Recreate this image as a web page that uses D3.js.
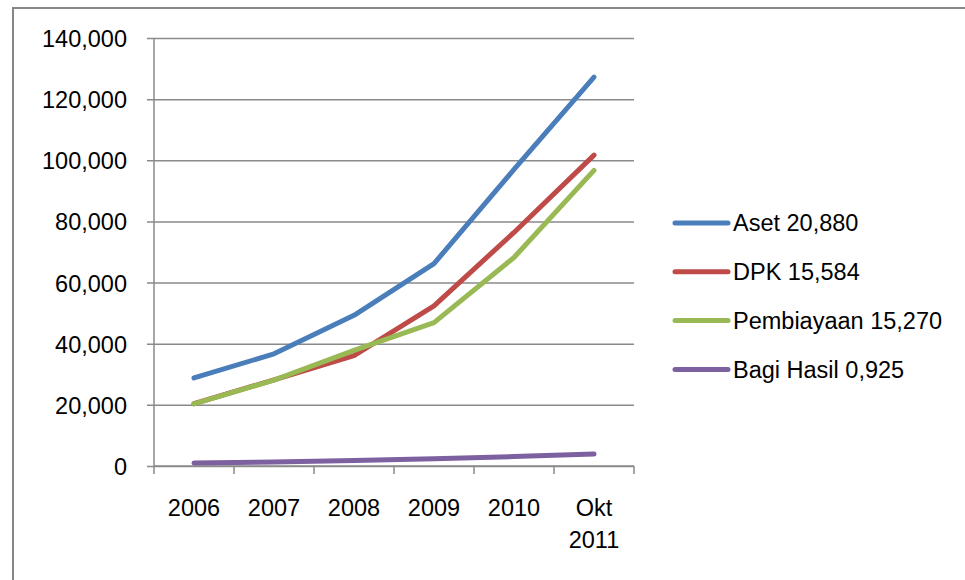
<!DOCTYPE html>
<html>
<head>
<meta charset="utf-8">
<script src="https://cdn.jsdelivr.net/npm/d3@7"></script>
<style>
  body { margin: 0; background: #fff; }
  svg { display: block; font-family: "Liberation Sans", Arial, sans-serif; }
</style>
</head>
<body>
<div id="chart"></div>
<script>
// data
const categories = ['2006', '2007', '2008', '2009', '2010', 'Okt 2011'];
const aset = [28800, 36700, 49300, 66200, 97000, 127200];
const dpk = [20400, 28200, 36100, 52400, 76400, 101700];
const pembiayaan = [20300, 28100, 37800, 46900, 68200, 96700];
const bagiHasil = [1000, 1300, 1800, 2400, 3100, 3900];
const seriesNames = ['Aset 20,880', 'DPK 15,584', 'Pembiayaan 15,270', 'Bagi Hasil 0,925'];
const yTicks = [0, 20000, 40000, 60000, 80000, 100000, 120000, 140000];

const colors = ['#4a7ebb', '#be4b48', '#98b954', '#7d60a0'];
const series = [aset, dpk, pembiayaan, bagiHasil].map((values, i) => ({
  name: seriesNames[i],
  color: colors[i],
  values: values
}));

const width = 965;
const height = 580;
const plot = { left: 154, right: 634, top: 38, bottom: 466 };

const svg = d3.select('#chart')
  .append('svg')
  .attr('width', width)
  .attr('height', height);

// outer chart border (runs off the right and bottom edges)
svg.append('rect')
  .attr('x', 13)
  .attr('y', 8)
  .attr('width', 1000)
  .attr('height', 620)
  .attr('fill', 'none')
  .attr('stroke', '#878787')
  .attr('stroke-width', 2);

const x = d3.scaleBand()
  .domain(categories)
  .range([plot.left, plot.right]);

const y = d3.scaleLinear()
  .domain([0, 140000])
  .range([plot.bottom, plot.top]);

const fmt = d3.format(',');

// y axis with gridlines
const yAxis = svg.append('g')
  .attr('transform', `translate(${plot.left},0)`)
  .call(d3.axisLeft(y)
    .tickValues(yTicks)
    .tickSize(-(plot.right - plot.left))
    .tickPadding(27)
    .tickFormat(fmt));

yAxis.select('.domain').remove();
yAxis.selectAll('.tick line')
  .attr('x1', -7)
  .attr('stroke', '#8a8a8a')
  .attr('stroke-width', 1.5);
yAxis.selectAll('.tick text')
  .attr('font-size', 23.5)
  .attr('font-family', '"Liberation Sans", Arial, sans-serif')
  .attr('fill', '#000')
  .attr('dy', '0.36em');

// vertical axis line
svg.append('line')
  .attr('x1', plot.left).attr('x2', plot.left)
  .attr('y1', plot.top).attr('y2', plot.bottom)
  .attr('stroke', '#8a8a8a')
  .attr('stroke-width', 1.5);

// x axis
const xAxis = svg.append('g')
  .attr('transform', `translate(0,${plot.bottom})`);

xAxis.append('line')
  .attr('x1', plot.left).attr('x2', plot.right)
  .attr('stroke', '#8a8a8a')
  .attr('stroke-width', 1.5);

const boundaries = categories.map(c => x(c)).concat([plot.right]);
xAxis.selectAll('line.tick')
  .data(boundaries)
  .enter()
  .append('line')
  .attr('class', 'tick')
  .attr('x1', d => d).attr('x2', d => d)
  .attr('y1', 0).attr('y2', 8)
  .attr('stroke', '#8a8a8a')
  .attr('stroke-width', 1.5);

const labels = xAxis.selectAll('text')
  .data(categories)
  .enter()
  .append('text')
  .attr('x', d => x(d) + x.bandwidth() / 2)
  .attr('y', 50)
  .attr('text-anchor', 'middle')
  .attr('font-size', 23.5)
  .attr('fill', '#000');

labels.each(function (d) {
  const words = d.split(' ');
  const t = d3.select(this);
  words.forEach((w, i) => {
    t.append('tspan')
      .attr('x', x(d) + x.bandwidth() / 2)
      .attr('dy', i === 0 ? 0 : 32)
      .text(w);
  });
});

// lines
const line = d3.line()
  .x((d, i) => x(categories[i]) + x.bandwidth() / 2)
  .y(d => y(d));

svg.selectAll('path.series')
  .data(series)
  .enter()
  .append('path')
  .attr('class', 'series')
  .attr('d', d => line(d.values))
  .attr('fill', 'none')
  .attr('stroke', d => d.color)
  .attr('stroke-width', 5)
  .attr('stroke-linejoin', 'round')
  .attr('stroke-linecap', 'round');

// legend
const legend = svg.append('g')
  .attr('transform', 'translate(675,223)');

const item = legend.selectAll('g')
  .data(series)
  .enter()
  .append('g')
  .attr('transform', (d, i) => `translate(0,${i * 48.8})`);

item.append('line')
  .attr('x1', 0).attr('x2', 53)
  .attr('stroke', d => d.color)
  .attr('stroke-width', 5)
  .attr('stroke-linecap', 'round');

item.append('text')
  .attr('x', 58)
  .attr('dy', '0.36em')
  .attr('font-size', 23.5)
  .attr('fill', '#000')
  .text(d => d.name);
</script>
</body>
</html>
